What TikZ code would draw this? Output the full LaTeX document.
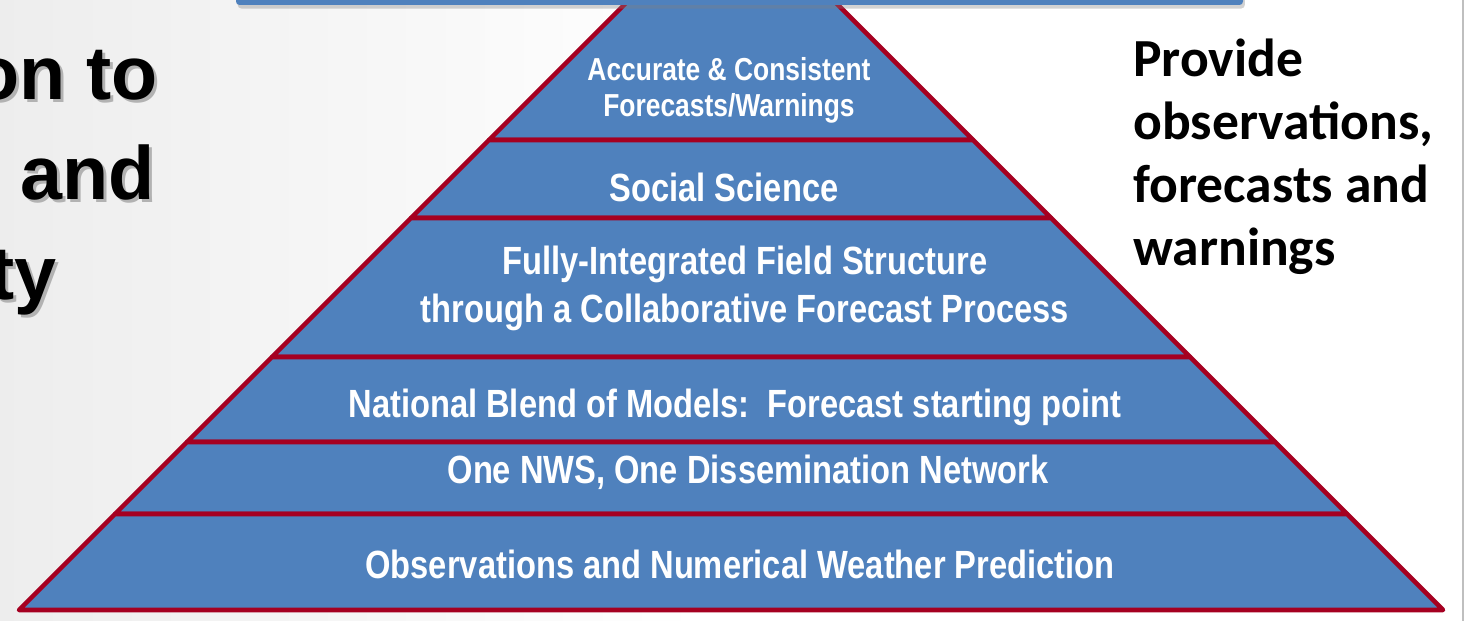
\documentclass[tikz,border=0pt]{standalone}
\usepackage{fontspec}
\setmainfont{Liberation Sans}
\newfontfamily\narrowsans[FakeStretch=0.83]{Liberation Sans}
\newfontfamily\calibrisans{Carlito}
\usetikzlibrary{shadows}

\definecolor{layerblue}{HTML}{4F81BD}
\definecolor{layerred}{HTML}{A50021}

\tikzset{
  layer/.style={fill=layerblue, draw=layerred, line width=2.6pt, line join=round},
  layertext/.style={text=white, align=center, inner sep=0pt,
    font=\narrowsans\bfseries\fontsize{22.4}{27.2}\selectfont},
  sidetext/.style={align=left, inner sep=0pt,
    font=\calibrisans\bfseries\fontsize{30.5}{36}\selectfont},
  bigtext/.style={inner sep=0pt, font=\bfseries\fontsize{43}{50}\selectfont}
}

\begin{document}
\begin{tikzpicture}[x=0.02cm, y=-0.02cm]
  % Fix the frame to the size of the slide cut-out
  \useasboundingbox (0,0) rectangle (1469,621);
  \clip (0,0) rectangle (1469,621);
  % Light grey slide background fading to white
  \shade[left color=gray!14, right color=white] (0,0) rectangle (700,621);
  \fill[white] (700,0) rectangle (1469,621);
  % Thin frame line on the right
  \draw[gray!50, line width=0.6pt] (1463,0) -- (1463,621);
  % Pyramid layers, from the apex down (sides at 45 degrees)
  \foreach \t/\b in {-102/140, 140/218, 218/357, 357/442, 442/514, 514/610}
    \filldraw[layer] ({731-(\t+102)},\t) -- ({731+(\t+102)},\t)
      -- ({731+(\b+102)},\b) -- ({731-(\b+102)},\b) -- cycle;
  % Title bar across the top, mostly cut off
  \fill[layerblue, rounded corners=2pt,
    drop shadow={opacity=0.35, shadow xshift=1pt, shadow yshift=-2pt}]
    (236,-20) rectangle (1243,5);
  % Layer labels (base = last line)
  \node[layertext, anchor=base, font=\narrowsans\bfseries\fontsize{18.1}{21}\selectfont]
    (accurate) at (729,117) {Accurate \& Consistent\\Forecasts/Warnings};
  \node[layertext, anchor=base] (social) at (724,202) {Social Science};
  \node[layertext, anchor=base] (field) at (745,322)
    {Fully-Integrated Field Structure\\through a Collaborative Forecast Process};
  \node[layertext, anchor=base] (blend) at (735,417)
    {National Blend of Models:\ \ Forecast starting point};
  \node[layertext, anchor=base] (network) at (748,483) {One NWS, One Dissemination Network};
  \node[layertext, anchor=base] (obs) at (740,578) {Observations and Numerical Weather Prediction};
  % Statement on the right
  \node[sidetext, anchor=base west] (provide) at (1133,266)
    {Provide\\observations,\\forecasts and\\warnings};
  % Cut-off slide title on the left, with its shadow
  \foreach \name/\word/\xx/\yy in {lineA/on to/158/100, lineB/and/155/200, lineC/ty/57/299} {
    \node[bigtext, text=gray!60, anchor=base east] at (\xx+3,\yy+3) {\word};
    \node[bigtext, anchor=base east] (\name) at (\xx,\yy) {\word};
  }
\end{tikzpicture}
\end{document}
